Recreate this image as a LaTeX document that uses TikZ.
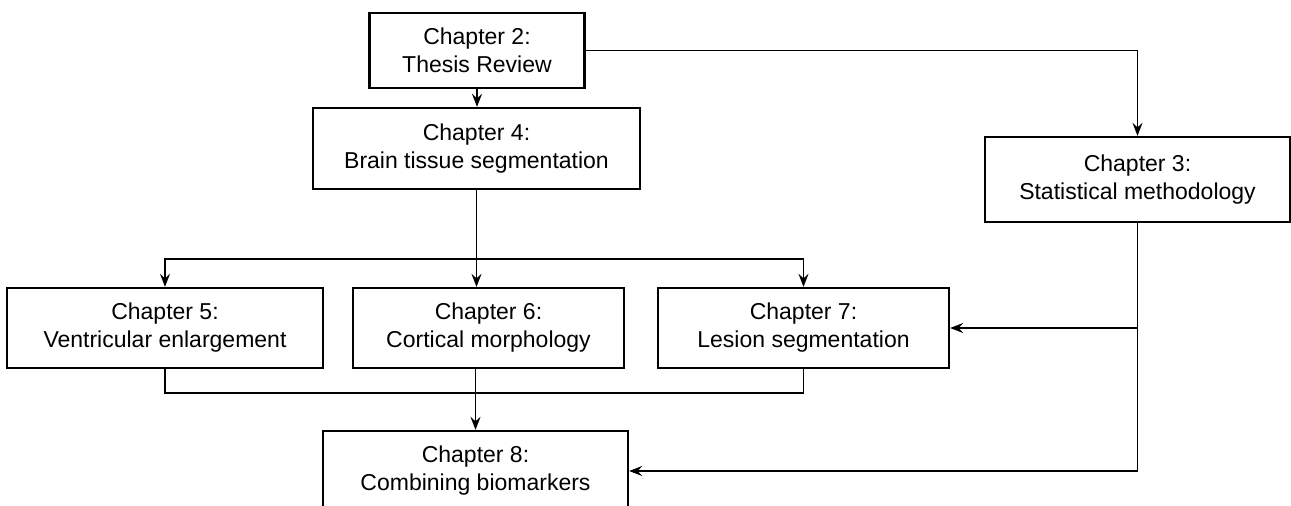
\documentclass[tikz,border=0pt]{standalone}
\usepackage{fontspec}
\setmainfont{Liberation Sans}
\usetikzlibrary{arrows.meta}
\begin{document}
\begin{tikzpicture}[x=1pt,y=-1pt,
  chapbox/.style={draw, line width=2.3pt, align=center, inner sep=0pt,
    font=\fontsize{23}{28}\selectfont},
  link/.style={line width=1.6pt},
  arr/.style={link, -{Stealth[length=13pt,width=10pt,inset=4.5pt]}}]
\clip (0,0) rectangle (1291,506);
\useasboundingbox (0,0) rectangle (1291,506);
\node[chapbox, minimum width=215pt, minimum height=75pt] (ch2) at (477,50.5) {Chapter 2:\\Thesis Review};
\node[chapbox, minimum width=327pt, minimum height=81pt] (ch4) at (476.5,148.5) {Chapter 4:\\Brain tissue segmentation};
\node[chapbox, minimum width=305pt, minimum height=85pt] (ch3) at (1137.5,179.5) {Chapter 3:\\Statistical methodology};
\node[chapbox, minimum width=316pt, minimum height=80pt] (ch5) at (165,328) {Chapter 5:\\Ventricular enlargement};
\node[chapbox, minimum width=271pt, minimum height=80pt] (ch6) at (488.5,328) {Chapter 6:\\Cortical morphology};
\node[chapbox, minimum width=291pt, minimum height=80pt] (ch7) at (803.5,328) {Chapter 7:\\Lesion segmentation};
\node[chapbox, minimum width=305pt, minimum height=80pt] (ch8) at (475.5,471) {Chapter 8:\\Combining biomarkers};
\coordinate (split) at (476.5,259);
\coordinate (join) at (475.5,393);
\draw[arr] (ch2.south) -- (ch2.south |- ch4.north);
\draw[arr] (ch2.east) -| (ch3.north);
\draw[link] (ch4.south) -- (split);
\draw[arr] (split) -| (ch5.north);
\draw[arr] (split) -| (ch7.north);
\draw[arr] (split) -- (split |- ch6.north);
\draw[link] (ch5.south) |- (join);
\draw[link] (ch7.south) |- (join);
\draw[link] (join |- ch6.south) -- (join);
\draw[arr] (join) -- (ch8.north);
\draw[arr] (ch3.south) |- (ch8.east);
\draw[arr] (ch3.south |- ch7.east) -- (ch7.east);
\end{tikzpicture}
\end{document}
